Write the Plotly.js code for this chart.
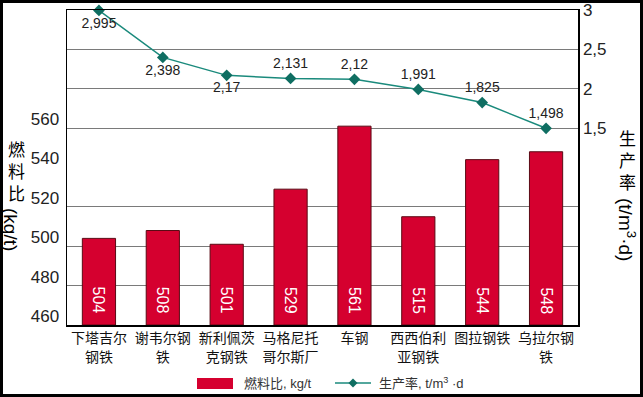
<!DOCTYPE html>
<html>
<head>
<meta charset="utf-8">
<script src="https://cdn.plot.ly/plotly-3.0.1.min.js"></script>
<style>
html,body{margin:0;padding:0;background:#fff;}
#wrap{position:relative;width:643px;height:397px;}
#chart{width:643px;height:397px;}
#frame{position:absolute;left:0;top:0;width:643px;height:397px;box-sizing:border-box;border:3px solid #000;pointer-events:none;}
</style>
</head>
<body>
<div id="wrap"><div id="chart"></div><div id="frame"></div></div>
<script>
// ---- data ----
const plants = ["下塔吉尔<br>钢铁", "谢韦尔钢<br>铁", "新利佩茨<br>克钢铁", "马格尼托<br>哥尔斯厂", "车钢", "西西伯利<br>亚钢铁", "图拉钢铁", "乌拉尔钢<br>铁"];
const fuelRate = [504, 508, 501, 529, 561, 515, 544, 548];
const productivity = [2.995, 2.398, 2.17, 2.131, 2.12, 1.991, 1.825, 1.498];
const productivityLabels = ["2,995", "2,398", "2,17", "2,131", "2,12", "1,991", "1,825", "1,498"];
const leftTicks = [460, 480, 500, 520, 540, 560];
const leftGrid = [480, 500, 520];
const rightTicks = [1.5, 2, 2.5, 3];
const rightTickText = ["1,5", "2", "2,5", "3"];
const fuelName = "燃料比, kg/t";
const prodName = "生产率, t/m<sup>3</sup> ·d";
const leftMin = 460, leftMax = 620;

// ---- layout helpers ----
const L = 67, R = 578, T = 10, B = 325;
const px = x => (x - L) / (R - L);
const py = y => (B - y) / (B - T);

const FONT = "Liberation Sans, Arial, Noto Sans CJK SC, sans-serif";
const CJK = "Noto Sans CJK SC, sans-serif";
const RED = "#d5002f";
const TEAL = "#1a8a7c";

const traces = [
  // helper axis just for left gridlines (drawn first)
  {type: "scatter", x: [plants[0]], y: [null], yaxis: "y3", showlegend: false, hoverinfo: "skip"},
  {
    type: "bar",
    x: plants,
    base: leftMin,
    y: fuelRate.map(v => v - leftMin),
    yaxis: "y",
    width: 0.52,
    marker: {color: RED, line: {color: "#5a0a14", width: 1}},
    hoverinfo: "skip"
  },
  {
    type: "scatter",
    mode: "lines+markers+text",
    x: plants,
    y: productivity,
    yaxis: "y2",
    line: {color: TEAL, width: 1.5},
    marker: {symbol: "diamond", size: 9, color: "#0f6e62"},
    text: productivityLabels,
    textposition: ["bottom center", "bottom center", "bottom center", "top center", "top center", "top center", "top center", "top center"],
    textfont: {color: "#222", size: 14, family: FONT},
    cliponaxis: false,
    hoverinfo: "skip"
  }
];

const annotations = [];
// bar value labels, rotated, near the bar base
plants.forEach((p, i) => annotations.push({
  text: String(fuelRate[i]), x: p, y: leftMin, xref: "x", yref: "y", showarrow: false,
  textangle: 90, xanchor: "center", yanchor: "bottom", yshift: 9,
  font: {family: FONT, size: 16, color: "#ffffff"}
}));
// left title: stacked chars + rotated unit
annotations.push({text: "燃<br>料<br>比", xref: "paper", yref: "paper", x: px(16), y: py(170), showarrow: false,
  xanchor: "center", yanchor: "middle", font: {family: CJK, size: 17, color: "#000"}});
annotations.push({text: "(kg/t)", xref: "paper", yref: "paper", x: px(11), y: py(229), showarrow: false,
  textangle: 90, xanchor: "center", yanchor: "middle", font: {family: FONT, size: 19, color: "#000"}});
// right title
annotations.push({text: "生<br>产<br>率", xref: "paper", yref: "paper", x: px(627), y: py(159), showarrow: false,
  xanchor: "center", yanchor: "middle", font: {family: CJK, size: 17, color: "#000"}});
annotations.push({text: "(t/m<sup>3</sup>·d)", xref: "paper", yref: "paper", x: px(627), y: py(229), showarrow: false,
  textangle: 90, xanchor: "center", yanchor: "middle", font: {family: FONT, size: 19, color: "#000"}});
// legend texts
annotations.push({text: fuelName, xref: "paper", yref: "paper", x: px(242), y: py(383), showarrow: false,
  xanchor: "left", yanchor: "middle", font: {family: FONT, size: 13, color: "#333"}});
annotations.push({text: prodName, xref: "paper", yref: "paper", x: px(377), y: py(383), showarrow: false,
  xanchor: "left", yanchor: "middle", font: {family: FONT, size: 13, color: "#333"}});

const dx = 4.5 / (R - L), dy = 4.5 / (B - T);
const mx = px(353), my = py(383);
const shapes = [
  {type: "rect", xref: "paper", yref: "paper", x0: px(197), x1: px(233), y0: py(378), y1: py(389),
   fillcolor: RED, line: {width: 0}},
  {type: "line", xref: "paper", yref: "paper", x0: px(335), x1: px(371), y0: my, y1: my,
   line: {color: TEAL, width: 1.5}},
  {type: "path", xref: "paper", yref: "paper",
   path: `M ${mx} ${my + dy} L ${mx + dx} ${my} L ${mx} ${my - dy} L ${mx - dx} ${my} Z`,
   fillcolor: "#0f6e62", line: {width: 0}}
];

const layout = {
  width: 643, height: 397,
  margin: {l: L, r: 643 - R, t: T, b: 397 - B},
  paper_bgcolor: "#fff", plot_bgcolor: "#fff",
  showlegend: false,
  font: {family: FONT, color: "#222"},
  bargap: 0.48,
  xaxis: {
    type: "category", showline: true, mirror: true, linecolor: "#000", linewidth: 1.5,
    ticks: "", showgrid: false,
    tickfont: {family: CJK, size: 14, color: "#111"}, tickangle: 0
  },
  yaxis: {
    range: [leftMin, leftMax], tickvals: leftTicks, showgrid: false, zeroline: false,
    showline: true, linecolor: "#000", linewidth: 1.5, ticks: "",
    tickfont: {family: FONT, size: 17, color: "#222"}, ticklabelshift: -9, ticklabelstandoff: 3
  },
  yaxis2: {
    overlaying: "y", side: "right", range: [-1, 3], tickvals: rightTicks, ticktext: rightTickText,
    showgrid: true, gridcolor: "#7a7a7a", gridwidth: 1, zeroline: false,
    showline: true, linecolor: "#000", linewidth: 1.5, ticks: "",
    tickfont: {family: FONT, size: 17, color: "#222"}
  },
  yaxis3: {
    overlaying: "y", side: "left", range: [leftMin, leftMax], tickvals: leftGrid, showticklabels: false,
    showgrid: true, gridcolor: "#7a7a7a", gridwidth: 1, zeroline: false, showline: false, ticks: ""
  },
  annotations: annotations,
  shapes: shapes
};

Plotly.newPlot("chart", traces, layout, {staticPlot: true, displayModeBar: false});
</script>
</body>
</html>
